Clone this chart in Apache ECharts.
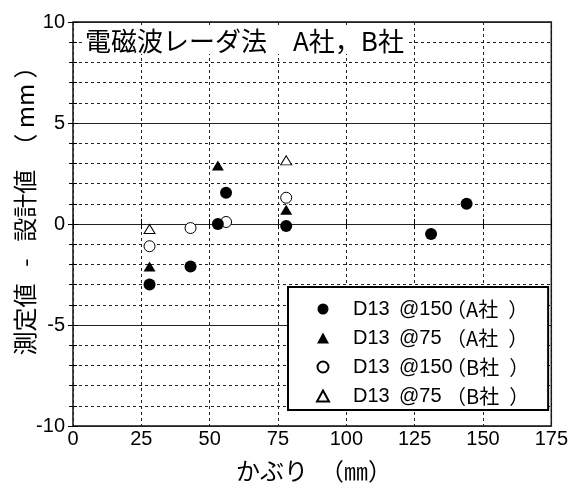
<!DOCTYPE html>
<html>
<head>
<meta charset="utf-8">
<script src="https://cdn.jsdelivr.net/npm/echarts@6/dist/echarts.min.js"></script>
<style>
html,body{margin:0;padding:0;background:#fff;}
#c{width:571px;height:489px;}
</style>
</head>
<body>
<div id="c"></div>
<script>
// ---- data ----
var seriesNames = ['D13 @150（A社）', 'D13 @75（A社）', 'D13 @150（B社）', 'D13 @75（B社）'];
var xA150 = [28, 43, 53, 56, 78, 131, 144];
var yA150 = [-3.0, -2.1, 0.0, 1.55, -0.1, -0.5, 1.0];
var xA75 = [28, 53, 78];
var yA75 = [-2.1, 2.9, 0.7];
var xB150 = [28, 43, 56, 78];
var yB150 = [-1.1, -0.2, 0.1, 1.3];
var xB75 = [28, 78];
var yB75 = [-0.25, 3.15];
var titleText = '電磁波レーダ法　A社，B社';
var xName = 'かぶり　（㎜）';
var yName = '測定値\u2002\u2009-\u2002\u2009設計値　（ mm ）';

function pairs(xs, ys) { return xs.map(function (x, i) { return [x, ys[i]]; }); }

var LATIN = 'Liberation Sans, Arial, Noto Sans CJK JP';
var CJK = 'Noto Sans CJK JP';
var GRID_C = '#222';

var chart = echarts.init(document.getElementById('c'), null, {renderer: 'canvas'});

var axisX = function (pos, labels) {
  return {
    type: 'value', position: pos, min: 0, max: 175, interval: 25,
    axisLine: {show: false},
    axisTick: {show: true, inside: true, length: 5, lineStyle: {color: '#000'}},
    axisLabel: {show: labels, fontSize: 20, color: '#000', fontFamily: LATIN, margin: 3},
    splitLine: {show: labels, lineStyle: {color: GRID_C, type: [3, 3], width: 1}}
  };
};
var axisY = function (pos, labels) {
  return {
    type: 'value', position: pos, min: -10, max: 10, interval: 5, splitNumber: 4,
    axisLine: {show: false},
    axisTick: {show: true, inside: true, length: 5, lineStyle: {color: '#000'}},
    minorTick: {show: true, splitNumber: 5, length: 4, lineStyle: {color: '#000'}},
    axisLabel: {show: labels, fontSize: 20, color: '#000', fontFamily: LATIN, margin: 8},
    splitLine: {show: labels, lineStyle: {color: GRID_C, type: 'solid', width: 1}},
    minorSplitLine: {show: labels, lineStyle: {color: GRID_C, type: [3, 3], width: 1}}
  };
};

var richStyles = {
  p: {width: 19, fontSize: 20, lineHeight: 20, fontFamily: LATIN, color: '#000'},
  a: {width: 46, fontSize: 20, lineHeight: 20, fontFamily: LATIN, color: '#000'},
  b: {width: 47, fontSize: 20, lineHeight: 20, fontFamily: LATIN, color: '#000'},
  c: {fontSize: 20, lineHeight: 20, fontFamily: CJK, color: '#000'}
};

var option = {
  backgroundColor: '#fff',
  animation: false,
  grid: {left: 73, top: 22, right: 19, bottom: 63, show: true, borderColor: '#111', borderWidth: 1.5, backgroundColor: 'transparent', containLabel: false},
  xAxis: [axisX('bottom', true), axisX('top', false)],
  yAxis: [axisY('left', true), axisY('right', false)],
  legend: {
    orient: 'vertical', left: 288, top: 287,
    padding: [12, 19, 4, 28],
    itemWidth: 12, itemHeight: 11, itemGap: 9,
    backgroundColor: '#fff', borderColor: '#000', borderWidth: 2, borderRadius: 0,
    data: seriesNames,
    formatter: function (name) {
      var m = name.match(/^(\S+) (\S+?)（(.+)）$/);
      return '{p| }{a|' + m[1] + '}{b|' + m[2] + '}{c|（' + m[3] + '\u2002）}';
    },
    textStyle: {rich: richStyles, fontSize: 20, color: '#000'}
  },
  series: [
    {name: seriesNames[0], type: 'scatter', data: pairs(xA150, yA150), symbol: 'circle', symbolSize: 12,
      itemStyle: {color: '#000', opacity: 1}, z: 5},
    {name: seriesNames[1], type: 'scatter', data: pairs(xA75, yA75), symbol: 'triangle', symbolSize: [12, 10],
      itemStyle: {color: '#000', opacity: 1}, z: 5},
    {name: seriesNames[2], type: 'scatter', data: pairs(xB150, yB150), symbol: 'circle', symbolSize: 11,
      itemStyle: {color: '#fff', borderColor: '#000', borderWidth: 1, opacity: 1}, z: 4},
    {name: seriesNames[3], type: 'scatter', data: pairs(xB75, yB75), symbol: 'triangle', symbolSize: [11, 9],
      itemStyle: {color: '#fff', borderColor: '#000', borderWidth: 1, opacity: 1}, z: 4}
  ],
  graphic: [
    {type: 'text', z: 100, left: 85, top: 28,
      style: {text: titleText, font: '26px "Noto Sans CJK JP"', fill: '#000', backgroundColor: '#fff', padding: [0, 2, 0, 0]}},
    {type: 'text', z: 100, x: 25, y: 205, rotation: Math.PI / 2,
      style: {text: yName, font: '24px "Noto Sans CJK JP"', fill: '#000', textAlign: 'center', textVerticalAlign: 'middle'}},
    {type: 'text', z: 100, x: 314, y: 471,
      style: {text: xName, font: '24px "Noto Sans CJK JP"', fill: '#000', textAlign: 'center', textVerticalAlign: 'middle'}}
  ]
};
chart.setOption(option);
</script>
</body>
</html>
